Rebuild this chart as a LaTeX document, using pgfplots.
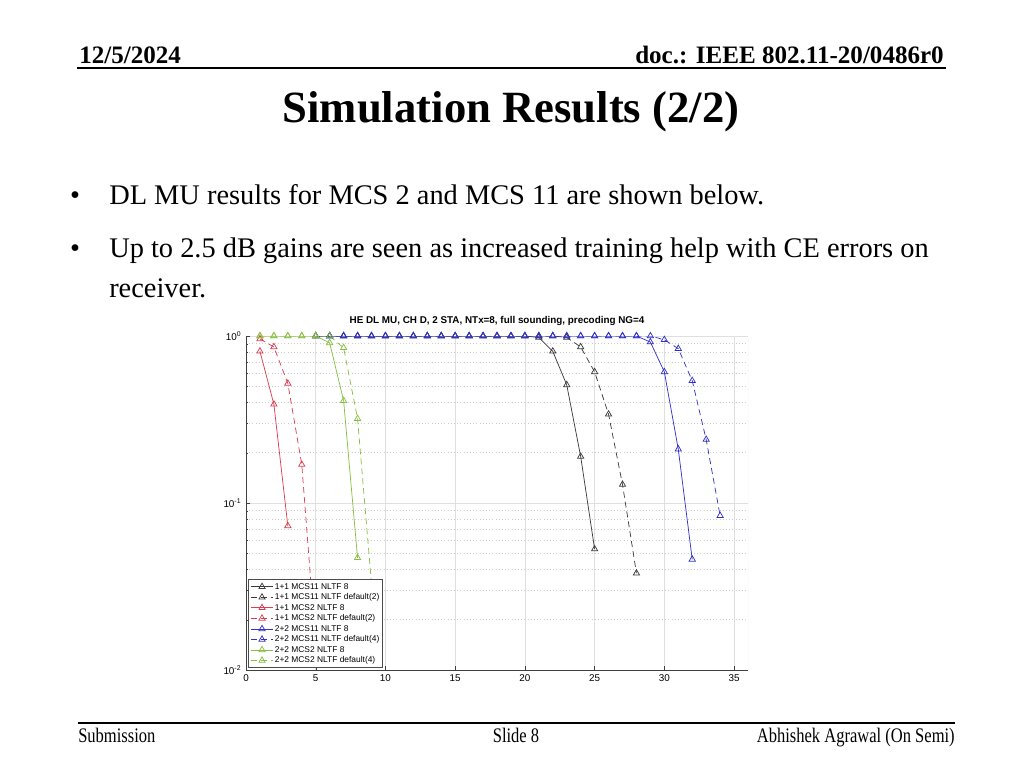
\documentclass[border=0pt]{standalone}
\usepackage{fontspec}
\setmainfont{Liberation Serif}
\newfontfamily\chartfont{Liberation Sans}
\usepackage{pgfplots}
\pgfplotsset{compat=1.18}

\definecolor{mred}{RGB}{222,60,80}
\definecolor{mblue}{RGB}{50,50,200}
\definecolor{mgreen}{RGB}{135,192,65}
\definecolor{mblack}{RGB}{60,60,60}

\begin{document}
\begin{tikzpicture}
\begin{scope}[x=0.75pt,y=-0.75pt]
\path[use as bounding box] (0,0) rectangle (1024,768);

% slide header
\node[anchor=base west,inner sep=0,font=\bfseries\fontsize{18.8}{20}\selectfont] at (79,63) {12/5/2024};
\node[anchor=base east,inner sep=0,font=\bfseries\fontsize{18.8}{20}\selectfont] at (944,63) {doc.: IEEE 802.11-20/0486r0};
\draw[line width=1.3pt] (77,68) -- (946,68);

\node[anchor=base,inner sep=0,font=\bfseries\fontsize{33.5}{36}\selectfont] at (511,122) {Simulation Results (2/2)};

% bullets
\begin{scope}[every node/.style={inner sep=0,font=\fontsize{21.3}{24}\selectfont}]
\node[anchor=base] at (75,204) {•};
\node[anchor=base west] at (109,204) {DL MU results for MCS 2 and MCS 11 are shown below.};
\node[anchor=base] at (75,257) {•};
\node[anchor=base west] at (109,257) {Up to 2.5 dB gains are seen as increased training help with CE errors on};
\node[anchor=base west] at (109,297) {receiver.};
\end{scope}

% footer
\draw[line width=1.3pt] (78,723) -- (955,723);
\begin{scope}[every node/.style={inner sep=0,font=\fontsize{15.5}{17}\selectfont}]
\node[anchor=base west] at (78,742) {\scalebox{0.8}[1]{Submission}};
\node[anchor=base] at (516,742) {\scalebox{0.8}[1]{Slide 8}};
\node[anchor=base east] at (955,742) {\scalebox{0.8}[1]{Abhishek Agrawal (On Semi)}};
\end{scope}
\end{scope}

\begin{axis}[
  at={(184.5pt,-502.5pt)}, anchor=south west,
  scale only axis, width=376.5pt, height=250.5pt,
  xmin=0, xmax=36,
  ymode=log, ymin=0.01, ymax=1,
  xtick={0,5,...,35},
  ytick={0.01,0.1,1},
  yticklabels={10\textsuperscript{-2},10\textsuperscript{-1},10\textsuperscript{0}},
  axis x line*=bottom, axis y line*=left,
  axis line style={-, black!75},
  tick align=inside,
  tick style={black!75},
  major tick length=3pt, minor tick length=1.6pt,
  xmajorgrids, ymajorgrids, yminorgrids,
  major grid style={gray!25},
  minor grid style={gray!40, dotted},
  ticklabel style={font=\chartfont\fontsize{7.4}{8}\selectfont},
  /pgf/number format/assume math mode=true,
  title={HE DL MU, CH D, 2 STA, NTx=8, full sounding, precoding NG=4},
  title style={font=\chartfont\bfseries\fontsize{7.4}{8}\selectfont, at={(0.5,1)}, anchor=base, yshift=3.5pt},
  every axis plot/.append style={line width=0.55pt, mark=triangle, mark size=2.7pt, mark options={solid}},
  legend style={at={(0.004,0.006)}, anchor=south west, draw=black!70, fill=white,
    font=\chartfont\fontsize{6.3}{7}\selectfont, inner sep=1.5pt, row sep=0pt,
    nodes={inner sep=0.8pt, text height=4.9pt, text depth=1.4pt}},
  legend cell align=left,
]
\draw[gray!25] (rel axis cs:1,0) -- (rel axis cs:1,1);

% 1+1 MCS11 NLTF 8
\addplot[mblack] coordinates {
 (5,1) (6,1) (7,1) (8,1) (9,1) (10,1) (11,1) (12,1) (13,1) (14,1) (15,1) (16,1)
 (17,1) (18,1) (19,1) (20,1) (21,0.98) (22,0.81) (23,0.51) (24,0.19) (25,0.053)
};
\addlegendentry{1+1 MCS11 NLTF 8}
% 1+1 MCS11 NLTF default(2)
\addplot[mblack, dash pattern=on 4.5pt off 3pt] coordinates {
 (5,1) (6,1) (7,1) (8,1) (9,1) (10,1) (11,1) (12,1) (13,1) (14,1) (15,1) (16,1)
 (17,1) (18,1) (19,1) (20,1) (21,1) (22,1) (23,0.98) (24,0.86) (25,0.61) (26,0.34)
 (27,0.129) (28,0.038)
};
\addlegendentry{1+1 MCS11 NLTF default(2)}
% 1+1 MCS2 NLTF 8
\addplot[mred] coordinates {
 (1,0.81) (2,0.39) (3,0.073)
};
\addlegendentry{1+1 MCS2 NLTF 8}
% 1+1 MCS2 NLTF default(2)
\addplot[mred, dash pattern=on 4.5pt off 3pt] coordinates {
 (1,0.96) (2,0.86) (3,0.52) (4,0.17) (5,0.014)
};
\addlegendentry{1+1 MCS2 NLTF default(2)}
% 2+2 MCS11 NLTF 8
\addplot[mblue] coordinates {
 (5,1) (6,1) (7,1) (8,1) (9,1) (10,1) (11,1) (12,1) (13,1) (14,1) (15,1) (16,1)
 (17,1) (18,1) (19,1) (20,1) (21,1) (22,1) (23,1) (24,1) (25,1) (26,1) (27,1)
 (28,1) (29,0.92) (30,0.61) (31,0.21) (32,0.046)
};
\addlegendentry{2+2 MCS11 NLTF 8}
% 2+2 MCS11 NLTF default(4)
\addplot[mblue, dash pattern=on 4.5pt off 3pt] coordinates {
 (5,1) (6,1) (7,1) (8,1) (9,1) (10,1) (11,1) (12,1) (13,1) (14,1) (15,1) (16,1)
 (17,1) (18,1) (19,1) (20,1) (21,1) (22,1) (23,1) (24,1) (25,1) (26,1) (27,1)
 (28,1) (29,1) (30,0.95) (31,0.84) (32,0.54) (33,0.24) (34,0.084)
};
\addlegendentry{2+2 MCS11 NLTF default(4)}
% 2+2 MCS2 NLTF 8
\addplot[mgreen] coordinates {
 (1,1) (2,1) (3,1) (4,1) (5,1) (6,0.91) (7,0.41) (8,0.047)
};
\addlegendentry{2+2 MCS2 NLTF 8}
% 2+2 MCS2 NLTF default(4)
\addplot[mgreen, dash pattern=on 4.5pt off 3pt] coordinates {
 (1,1) (2,1) (3,1) (4,1) (5,1) (6,1) (7,0.85) (8,0.32) (9,0.033)
};
\addlegendentry{2+2 MCS2 NLTF default(4)}
\end{axis}
\end{tikzpicture}
\end{document}
